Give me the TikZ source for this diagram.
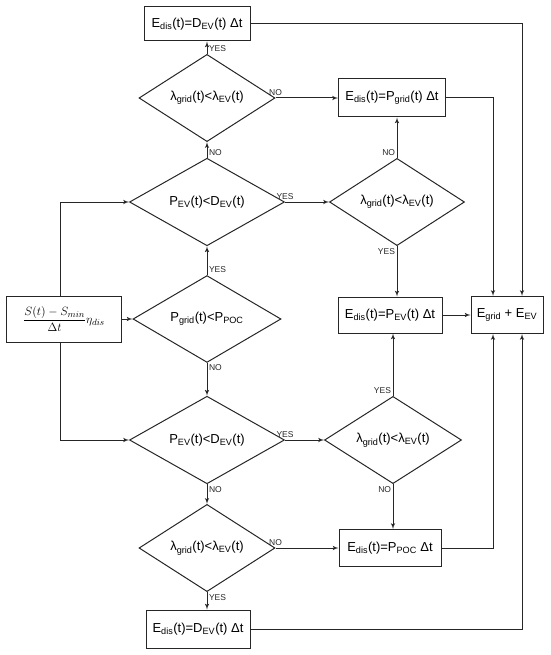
\documentclass[tikz,border=0pt]{standalone}
\usepackage{fontspec}
\setmainfont{Liberation Sans}
\usepackage{amsmath}
\usetikzlibrary{shapes, arrows, positioning}
\newcommand{\sbs}[1]{\textsubscript{#1}}
\tikzset{
    procbox/.style={
        rectangle,
        draw=black!85,
        line width=1pt,
        inner sep=0pt,
        minimum height=37pt,
        minimum width=104pt,
        align=center,
        font=\fontsize{13}{15}\selectfont
    },
    decision/.style={
        diamond,
        draw=black!85,
        line width=1pt,
        inner sep=0pt,
        minimum width=155pt,
        minimum height=73pt,
        align=center,
        font=\fontsize{13}{15}\selectfont
    },
    pricecheck/.style={decision, minimum width=136pt, minimum height=60pt},
    lbl/.style={font=\fontsize{8.5}{9}\selectfont, inner sep=1.5pt},
    line/.style={draw, -latex', line width=1pt, black!85}
}
\begin{document}
\begin{tikzpicture}[x=1pt, y=-1pt]
    \useasboundingbox (0,0) rectangle (550,655);

    % Input
    \node[procbox, minimum width=115pt, minimum height=46pt] (soc) at (64,319)
        {\fontsize{12.5}{15}\selectfont $\dfrac{S(t)-S_{min}}{\Delta t}\eta_{dis}$};

    % Middle column
    \node[decision, minimum width=148pt, minimum height=80pt] (pgrid) at (207,319) {P\sbs{grid}(t)<P\sbs{POC}};
    \node[decision] (pevup) at (207,202) {P\sbs{EV}(t)<D\sbs{EV}(t)};
    \node[pricecheck] (lamup) at (207,98) {λ\sbs{grid}(t)<λ\sbs{EV}(t)};
    \node[procbox, minimum width=106pt, minimum height=34pt] (dtop) at (197,24) {E\sbs{dis}(t)=D\sbs{EV}(t) Δt};
    \node[decision, minimum height=74pt] (pevdn) at (207,440) {P\sbs{EV}(t)<D\sbs{EV}(t)};
    \node[pricecheck] (lamdn) at (207,548) {λ\sbs{grid}(t)<λ\sbs{EV}(t)};
    \node[procbox, minimum height=38pt] (dbot) at (198,629) {E\sbs{dis}(t)=D\sbs{EV}(t) Δt};

    % Right column
    \node[procbox, minimum width=107pt, minimum height=38pt] (gridbox) at (392,98) {E\sbs{dis}(t)=P\sbs{grid}(t) Δt};
    \node[pricecheck, minimum width=135pt] (lamr1) at (397,202) {λ\sbs{grid}(t)<λ\sbs{EV}(t)};
    \node[procbox, minimum height=36pt] (evbox) at (390,315) {E\sbs{dis}(t)=P\sbs{EV}(t) Δt};
    \node[pricecheck, minimum width=137pt, minimum height=58pt] (lamr2) at (393,440) {λ\sbs{grid}(t)<λ\sbs{EV}(t)};
    \node[procbox, minimum width=102pt] (pocbox) at (390,548) {E\sbs{dis}(t)=P\sbs{POC} Δt};
    \node[procbox, minimum width=72pt] (total) at (507,315) {E\sbs{grid} + E\sbs{EV}};

    % Connections
    \path[line] (soc.east) -- (pgrid.west);
    \path[line] ([xshift=-4pt]soc.north) |- (pevup.west);
    \path[line] ([xshift=-4pt]soc.south) |- (pevdn.west);
    \path[line] (pgrid.north) -- node[lbl, pos=0, anchor=south west] {YES} (pevup.south);
    \path[line] (pgrid.south) -- node[lbl, pos=0, anchor=north west] {NO} (pevdn.north);
    \path[line] (pevup.north) -- node[lbl, pos=0, anchor=south west] {NO} (lamup.south);
    \path[line] (lamup.north) -- node[lbl, pos=0, anchor=south west] {YES} (lamup.north |- dtop.south);
    \path[line] (lamup.east) -- node[lbl, pos=0, anchor=south] {NO} (gridbox.west);
    \path[line] (pevup.east) -- node[lbl, pos=0, anchor=south] {YES} (lamr1.west);
    \path[line] (lamr1.north) -- node[lbl, pos=0, anchor=south east] {NO} (lamr1.north |- gridbox.south);
    \path[line] (lamr1.south) -- node[lbl, pos=0, anchor=north east] {YES} (lamr1.south |- evbox.north);
    \path[line] (evbox.east) -- (total.west);
    \path[line] (pevdn.east) -- node[lbl, pos=0, anchor=south] {YES} (lamr2.west);
    \path[line] (lamr2.north) -- node[lbl, pos=0, anchor=south east] {YES} (lamr2.north |- evbox.south);
    \path[line] (lamr2.south) -- node[lbl, pos=0, anchor=north east] {NO} (lamr2.south |- pocbox.north);
    \path[line] (pevdn.south) -- node[lbl, pos=0, anchor=north west] {NO} (lamdn.north);
    \path[line] (lamdn.east) -- node[lbl, pos=0, anchor=south] {NO} (pocbox.west);
    \path[line] (lamdn.south) -- node[lbl, pos=0, anchor=north west] {YES} (lamdn.south |- dbot.north);

    % Results to the sum
    \path[line] (dtop.east) -| ([xshift=15pt]total.north);
    \path[line] (gridbox.east) -| ([xshift=-14pt]total.north);
    \path[line] (dbot.east) -| ([xshift=15pt]total.south);
    \path[line] (pocbox.east) -| ([xshift=-14pt]total.south);

\end{tikzpicture}
\end{document}
